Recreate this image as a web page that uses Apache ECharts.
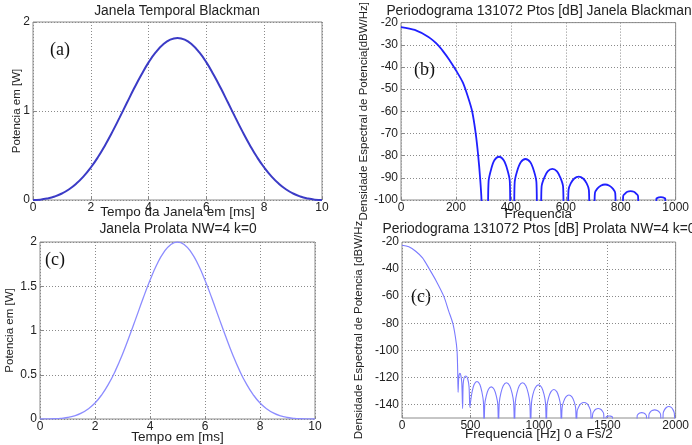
<!DOCTYPE html>
<html lang="pt">
<head>
  <meta charset="UTF-8" />
  <title>Janelas Blackman e Prolata</title>
  <script src="https://cdn.jsdelivr.net/npm/echarts/dist/echarts.min.js"></script>
  <style>
    body { margin: 0; background: #fff; }
    #chart { width: 692px; height: 445px; }
  </style>
</head>
<body>
<div id="chart"></div>
<script>
  // tempo em ms (paineis da esquerda)
  const timeMs = [0, 0.25, 0.5, 0.75, 1, 1.25, 1.5, 1.75, 2, 2.25, 2.5, 2.75, 3, 3.25, 3.5, 3.75, 4, 4.25, 4.5, 4.75,
    5, 5.25, 5.5, 5.75, 6, 6.25, 6.5, 6.75, 7, 7.25, 7.5, 7.75, 8, 8.25, 8.5, 8.75, 9, 9.25, 9.5, 9.75, 10];

  const blackmanWatts = [0, 0.004, 0.017, 0.039, 0.073, 0.121, 0.185, 0.266, 0.365, 0.483, 0.619, 0.768, 0.928, 1.092,
    1.255, 1.407, 1.546, 1.661, 1.747, 1.802, 1.82, 1.802, 1.747, 1.661, 1.546, 1.407, 1.255, 1.092, 0.928, 0.768,
    0.619, 0.483, 0.365, 0.266, 0.185, 0.121, 0.073, 0.039, 0.017, 0.004, 0];

  const prolateWatts = [0, 0.001, 0.003, 0.007, 0.017, 0.035, 0.066, 0.114, 0.181, 0.276, 0.399, 0.552, 0.732, 0.934,
    1.148, 1.364, 1.568, 1.745, 1.883, 1.97, 2.0, 1.97, 1.883, 1.745, 1.568, 1.364, 1.148, 0.934, 0.732, 0.552,
    0.399, 0.276, 0.181, 0.114, 0.066, 0.035, 0.017, 0.007, 0.003, 0.001, 0];

  // periodograma Blackman [Hz, dB]
  const blackmanMainLobe = [[0, -22], [50, -23.3], [100, -26.5], [134, -30], [150, -32.4], [175, -36.6], [200, -41.5],
    [225, -47], [245, -54], [259, -60], [272, -70], [281, -80], [288, -90], [293, -100], [296, -130]];

  const blackmanSideLobes = [
    [315, -110], [319, -91.4], [328, -86.2], [340, -82.1], [357, -80.5], [374, -82.1], [387, -86.2], [396, -91.4], [400, -110],
    [410, -110], [414, -91.9], [423, -86.9], [436, -83], [453, -81.5], [471, -83], [484, -86.9], [493, -91.9], [497, -110],
    [508, -110], [512, -93.8], [521, -90.1], [534, -87.1], [551, -86], [568, -87.1], [581, -90.1], [590, -93.8], [594, -110],
    [606, -110], [610, -95.4], [618, -92.5], [631, -90.3], [647, -89.5], [663, -90.3], [676, -92.5], [684, -95.4], [688, -110],
    [702, -110], [706, -96.9], [714, -95], [727, -93.6], [743, -93], [759, -93.6], [772, -95], [780, -96.9], [784, -110],
    [806, -110], [809, -98.2], [815, -97.2], [824, -96.3], [836, -96], [848, -96.3], [857, -97.2], [863, -98.2], [866, -110],
    [928, -110], [930, -99.4], [933, -99.1], [939, -98.8], [946, -98.7], [953, -98.8], [959, -99.1], [962, -99.4], [964, -110]
  ];

  // periodograma Prolata [Hz, dB]
  const prolateMainLobe = [[0, -22.4], [50, -23.5], [100, -26.8], [150, -31.7], [200, -40], [250, -48.8], [305, -60],
    [340, -70.7], [371, -80], [390, -90], [402, -100], [407, -115], [410, -131], [414, -121], [418, -118], [423, -117],
    [430, -118.5], [437, -124], [443, -143], [447, -125], [455, -120], [467, -119], [480, -121], [490, -127], [496, -142]];

  const prolateSideLobes = [
    [501, -138.1], [512, -130.8], [527, -125.2], [548, -123], [569, -125.2], [584, -130.8], [595, -138.1], [600, -158],
    [605, -139.9], [616, -133.7], [632, -128.8], [652, -127], [673, -128.8], [689, -133.7], [700, -139.9], [705, -158],
    [711, -138.6], [723, -131.5], [740, -126.1], [763, -124], [787, -126.1], [804, -131.5], [816, -138.6], [822, -158],
    [828, -138.6], [840, -131.5], [857, -126.1], [881, -124], [905, -126.1], [922, -131.5], [934, -138.6], [940, -158],
    [946, -139.2], [957, -132.6], [975, -127.5], [998, -125.5], [1021, -127.5], [1038, -132.6], [1049, -139.2], [1055, -158],
    [1060, -140.8], [1071, -135.1], [1088, -130.7], [1110, -129], [1132, -130.7], [1148, -135.1], [1159, -140.8], [1165, -158],
    [1170, -142.5], [1181, -137.9], [1198, -134.4], [1220, -133], [1242, -134.4], [1258, -137.9], [1269, -142.5], [1275, -158],
    [1280, -144.9], [1291, -141.8], [1308, -139.4], [1330, -138.5], [1352, -139.4], [1368, -141.8], [1379, -144.9], [1385, -158],
    [1390, -158], [1394, -146.9], [1403, -145], [1416, -143.6], [1434, -143], [1452, -143.6], [1465, -145], [1474, -146.9], [1478, -158],
    [1490, -158], [1492, -149.3], [1497, -148.9], [1505, -148.6], [1515, -148.5], [1525, -148.6], [1533, -148.9], [1538, -149.3], [1540, -158],
    [1715, -158], [1719, -148.2], [1726, -147.2], [1737, -146.3], [1752, -146], [1767, -146.3], [1779, -147.2], [1786, -148.2], [1790, -158],
    [1800, -158], [1805, -147.4], [1814, -145.7], [1828, -144.5], [1847, -144], [1866, -144.5], [1881, -145.7], [1890, -147.4], [1895, -158],
    [1905, -158], [1909, -146.3], [1918, -144], [1932, -142.2], [1950, -141.5], [1968, -142.2], [1981, -144], [1990, -146.3], [1995, -158]
  ];

  const titles = [
    'Janela Temporal Blackman',
    'Periodograma 131072 Ptos [dB] Janela Blackman',
    'Janela Prolata NW=4 k=0',
    'Periodograma 131072 Ptos [dB] Prolata NW=4 k=0'
  ];

  const chart = echarts.init(document.getElementById('chart'));

  const FONT = 'Liberation Sans';
  const gridLine = { show: true, lineStyle: { color: '#8a8a8a', type: [1, 2], width: 1 } };
  const plainNumber = v => String(v);
  const tickLabel = { color: '#222', fontFamily: FONT, fontSize: 12, margin: 2, formatter: plainNumber };
  const xNameStyle = { color: '#222', fontFamily: FONT, fontSize: 13.5 };
  const yNameStyle = { color: '#222', fontFamily: FONT, fontSize: 11.5 };

  function xAxis(idx, min, max, step, name, gap) {
    return {
      type: 'value', gridIndex: idx, min: min, max: max, interval: step,
      name: name, nameLocation: 'middle', nameGap: gap, nameTextStyle: xNameStyle, nameMoveOverlap: false,
      axisLine: { show: false }, axisTick: { show: true, inside: true, length: 3, lineStyle: { color: '#888' } },
      axisLabel: Object.assign({}, tickLabel), splitLine: gridLine
    };
  }
  function yAxis(idx, min, max, step, name, gap) {
    return {
      type: 'value', gridIndex: idx, min: min, max: max, interval: step,
      name: name, nameLocation: 'middle', nameGap: gap, nameTextStyle: yNameStyle, nameMoveOverlap: false,
      axisLine: { show: false }, axisTick: { show: true, inside: true, length: 3, lineStyle: { color: '#888' } },
      axisLabel: Object.assign({}, tickLabel, { margin: 3 }), splitLine: gridLine
    };
  }

  const yProlateSpec = yAxis(3, -150, -20, 10, 'Densidade Espectral de Potencia [dBW/Hz', 37);
  yProlateSpec.axisTick = { show: false };
  yProlateSpec.axisLabel.formatter = function (v) { return v % 20 === 0 ? String(v) : ''; };
  yProlateSpec.splitLine = { show: true, showMinLine: true, showMaxLine: true,
    lineStyle: { color: ['transparent', '#8a8a8a'], type: [1, 2], width: 1 } };

  const gridBox = { show: true, borderColor: '#8c8c8c', borderWidth: 1, backgroundColor: '#fff' };

  const option = {
    backgroundColor: '#fff',
    animation: false,
    title: [
      { text: titles[0], left: 177, top: 4, textAlign: 'center' },
      { text: titles[1], left: 539, top: 4, textAlign: 'center' },
      { text: titles[2], left: 178, top: 222, textAlign: 'center' },
      { text: titles[3], left: 539, top: 222, textAlign: 'center' }
    ].map(t => Object.assign(t, { textStyle: { fontFamily: FONT, fontSize: 13.8, fontWeight: 'normal', color: '#222' }, padding: 0 })),
    grid: [
      Object.assign({ left: 33, top: 22, width: 289, height: 178 }, gridBox),
      Object.assign({ left: 401, top: 22, width: 278, height: 178 }, gridBox),
      Object.assign({ left: 40, top: 242, width: 275, height: 177 }, gridBox),
      Object.assign({ left: 402, top: 242, width: 274, height: 176 }, gridBox)
    ],
    xAxis: [
      xAxis(0, 0, 10, 2, 'Tempo da Janela em [ms]', 5),
      xAxis(1, 0, 1000, 200, 'Frequencia', 7),
      xAxis(2, 0, 10, 2, 'Tempo em [ms]', 11),
      xAxis(3, 0, 2000, 500, 'Frequencia [Hz] 0 a Fs/2', 9)
    ],
    yAxis: [
      yAxis(0, 0, 2, 1, 'Potencia em [W]', 10),
      yAxis(1, -100, -20, 10, 'Densidade Espectral de Potencia[dBW/Hz]', 31),
      yAxis(2, 0, 2, 0.5, 'Potencia em [W]', 24),
      yProlateSpec
    ],
    graphic: [
      { type: 'text', left: 50, top: 41, style: { text: '(a)', font: '18px "Liberation Serif"', fill: '#111' } },
      { type: 'text', left: 414, top: 61, style: { text: '(b)', font: '18px "Liberation Serif"', fill: '#111' } },
      { type: 'text', left: 45, top: 251, style: { text: '(c)', font: '18px "Liberation Serif"', fill: '#111' } },
      { type: 'text', left: 411, top: 288, style: { text: '(c)', font: '18px "Liberation Serif"', fill: '#111' } }
    ],
    series: [
      {
        type: 'line', xAxisIndex: 0, yAxisIndex: 0, showSymbol: false, smooth: true,
        data: timeMs.map((t, i) => [t, blackmanWatts[i]]),
        lineStyle: { color: '#3b3bc6', width: 2 }
      },
      {
        type: 'line', xAxisIndex: 1, yAxisIndex: 1, showSymbol: false, smooth: 0.3,
        data: blackmanMainLobe.concat(blackmanSideLobes),
        lineStyle: { color: '#2020ff', width: 1.8 }
      },
      {
        type: 'line', xAxisIndex: 2, yAxisIndex: 2, showSymbol: false, smooth: true,
        data: timeMs.map((t, i) => [t, prolateWatts[i]]),
        lineStyle: { color: '#8c8cff', width: 1.3 }
      },
      {
        type: 'line', xAxisIndex: 3, yAxisIndex: 3, showSymbol: false, smooth: 0.3,
        data: prolateMainLobe.concat(prolateSideLobes),
        lineStyle: { color: '#7a7aff', width: 1.1 }
      }
    ]
  };

  chart.setOption(option);
</script>
</body>
</html>
